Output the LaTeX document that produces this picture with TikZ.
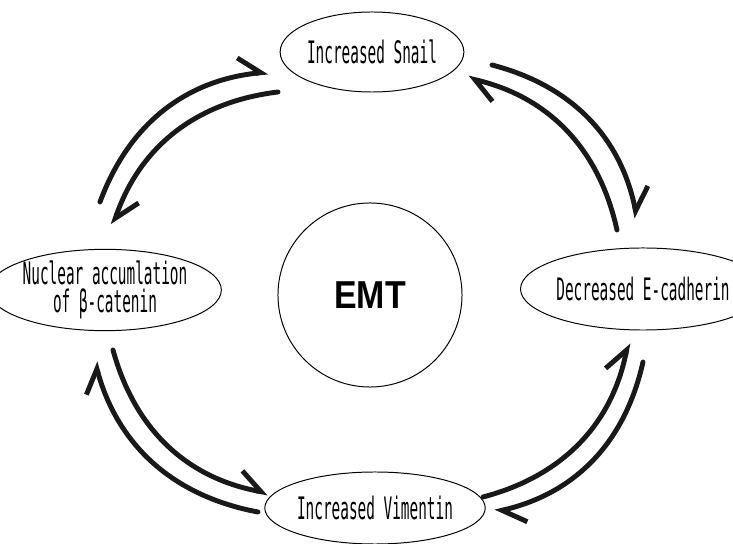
\documentclass[tikz,border=0pt]{standalone}
\usepackage{fontspec}
\usetikzlibrary{shapes.geometric,arrows.meta}
\newfontfamily\gothicfont[FakeStretch=0.465]{DejaVu Sans Mono}
\newfontfamily\emtfont[FakeStretch=0.87]{Liberation Sans}

\begin{document}
\begin{tikzpicture}[x=0.025cm,y=-0.025cm,
    stage/.style={draw,ellipse,line width=0.7pt,inner sep=0pt,align=center,
      font=\gothicfont\fontsize{22}{19.5}\selectfont},
    cycle/.style={line width=3.5pt,line cap=round,line join=round,black!90,
      -{Straight Barb[harpoon,length=0.55cm 0,width=0.85cm 0]}}]
    \useasboundingbox (0,0) rectangle (733,544);

    % states round the cycle
    \node[stage,minimum width=4.53cm,minimum height=2cm] (snail) at (372,52) {Increased Snail};
    \node[stage,minimum width=4.35cm,minimum height=2.05cm] (cadherin) at (643,289) {Decreased E-cadherin};
    \node[stage,minimum width=4.48cm,minimum height=1.8cm] (vimentin) at (375,508) {Increased Vimentin};
    \node[stage,minimum width=4.55cm,minimum height=1.9cm] (catenin) at (105,290) {Nuclear accumlation\\of β-catenin};
    \node[draw,circle,line width=0.7pt,minimum size=4.6cm,inner sep=0pt,
      font=\emtfont\bfseries\fontsize{27.7}{30}\selectfont] (emt) at (370,295) {EMT};

    % arrow ends
    \coordinate (a1s) at (100,202); \coordinate (a1e) at (268,72);
    \coordinate (b1s) at (278,92);  \coordinate (b1e) at (113,225);
    \coordinate (a2s) at (492,65);  \coordinate (a2e) at (637,218);
    \coordinate (b2s) at (617,230); \coordinate (b2e) at (468,78);
    \coordinate (a3s) at (643,362); \coordinate (a3e) at (495,512);
    \coordinate (b3s) at (483,497); \coordinate (b3e) at (628,343);
    \coordinate (a4s) at (258,512); \coordinate (a4e) at (95,362);
    \coordinate (b4s) at (113,350); \coordinate (b4e) at (268,493);

    \draw[cycle] (a1s) to[bend left=32] (a1e);
    \draw[cycle] (b1s) to[bend right=32] (b1e);
    \draw[cycle] (a2s) to[bend left=32] (a2e);
    \draw[cycle] (b2s) to[bend right=32] (b2e);
    \draw[cycle] (a3s) to[bend left=32] (a3e);
    \draw[cycle] (b3s) to[bend right=32] (b3e);
    \draw[cycle] (a4s) to[bend left=32] (a4e);
    \draw[cycle] (b4s) to[bend right=32] (b4e);
\end{tikzpicture}
\end{document}
